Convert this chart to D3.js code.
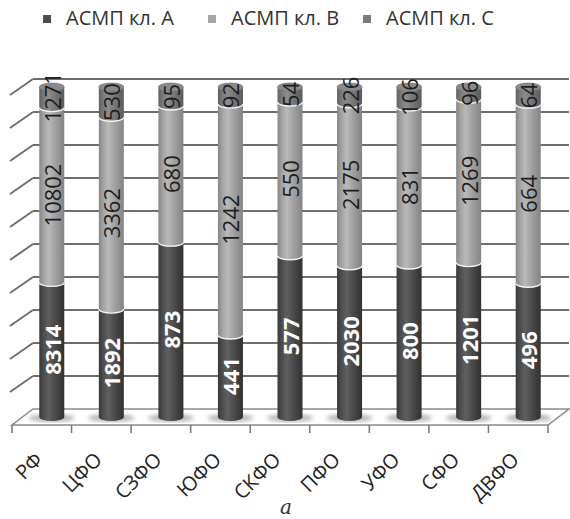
<!DOCTYPE html>
<html>
<head>
<meta charset="utf-8">
<script src="https://cdn.jsdelivr.net/npm/d3@7"></script>
<style>
  body { margin: 0; background: #fff; }
  svg { display: block; font-family: 'Open Sans', sans-serif; }
</style>
</head>
<body>
<div id="chart"></div>
<script>
// Data
const categories = ['РФ', 'ЦФО', 'СЗФО', 'ЮФО', 'СКФО', 'ПФО', 'УФО', 'СФО', 'ДВФО'];
const seriesNames = ['АСМП кл. А', 'АСМП кл. В', 'АСМП кл. С'];
const classA = [8314, 1892, 873, 441, 577, 2030, 800, 1201, 496];
const classB = [10802, 3362, 680, 1242, 550, 2175, 831, 1269, 664];
const classC = [1271, 530, 95, 92, 54, 226, 106, 96, 64];
const gridTicks = [0, 0.1, 0.2, 0.3, 0.4, 0.5, 0.6, 0.7, 0.8, 0.9, 1];

const width = 570, height = 519;
// 3D depth of the floor / back wall, and the plane where the cylinders stand
const depth = {dx: 21, dy: -16};
const mid = {dx: 10, dy: -8};
const rx = 12.5, ry = 4;

const svg = d3.select('#chart').append('svg')
    .attr('width', width)
    .attr('height', height);

const defs = svg.append('defs');

// Cylinder shading per series
const palette = [
  ['#383838', '#4e4e4e', '#5f5f5f', '#4a4a4a', '#313131'],
  ['#868686', '#a4a4a4', '#b9b9b9', '#a0a0a0', '#848484'],
  ['#606060', '#7b7b7b', '#8d8d8d', '#767676', '#5b5b5b']
];
const legendColors = ['#4d4d4d', '#a6a6a6', '#7b7b7b'];
const capColors = ['#5a5a5a', '#b4b4b4', '#8a8a8a'];

palette.forEach((stops, i) => {
  const g = defs.append('linearGradient')
      .attr('id', 'cyl' + i)
      .attr('x1', 0).attr('x2', 1).attr('y1', 0).attr('y2', 0);
  [0, 0.18, 0.38, 0.65, 1].forEach((o, j) => {
    g.append('stop').attr('offset', o).attr('stop-color', stops[j]);
  });
});
defs.append('filter').attr('id', 'blur')
  .append('feGaussianBlur').attr('stdDeviation', 2);

// Scales
const x = d3.scaleBand()
    .domain(categories)
    .range([12, 548]);
const y = d3.scaleLinear()
    .domain([0, 1])
    .range([425, 95]);

// Stack as shares of total (100% stacked)
const rows = categories.map((c, i) => ({cat: c, a: classA[i], b: classB[i], c: classC[i]}));
const stacked = d3.stack()
    .keys(['a', 'b', 'c'])
    .offset(d3.stackOffsetExpand)(rows);

// Floor
const x0 = x.range()[0], x1 = x.range()[1];
svg.append('polygon')
    .attr('points', [
      [x0, y(0)], [x1, y(0)],
      [x1 + depth.dx, y(0) + depth.dy], [x0 + depth.dx, y(0) + depth.dy]
    ].map(p => p.join(',')).join(' '))
    .attr('fill', '#fff')
    .attr('stroke', '#8a8a8a')
    .attr('stroke-width', 1.5);

// Ticks under the floor front edge
svg.append('g')
  .selectAll('line')
  .data(categories.map(c => x(c)).concat([x1]))
  .join('line')
    .attr('x1', d => d).attr('x2', d => d)
    .attr('y1', y(0)).attr('y2', y(0) + 8)
    .attr('stroke', '#777')
    .attr('stroke-width', 1.5);

// Back wall and side wall gridlines
const grid = svg.append('g')
    .attr('stroke', '#6e6e6e')
    .attr('stroke-width', 2);
grid.selectAll('.back')
  .data(gridTicks.filter(t => t > 0))
  .join('line')
    .attr('class', 'back')
    .attr('x1', x0 + depth.dx).attr('x2', x1 + depth.dx)
    .attr('y1', d => y(d) + depth.dy).attr('y2', d => y(d) + depth.dy);
grid.selectAll('.side')
  .data(gridTicks.filter(t => t > 0))
  .join('line')
    .attr('class', 'side')
    .attr('x1', x0 - 2).attr('x2', x0 + depth.dx)
    .attr('y1', d => y(d)).attr('y2', d => y(d) + depth.dy);

// Soft shadows on the floor
const cx = d => x(d) + x.bandwidth() / 2 + mid.dx;
svg.append('g')
  .selectAll('ellipse')
  .data(categories)
  .join('ellipse')
    .attr('cx', d => cx(d))
    .attr('cy', y(0) + mid.dy + 1)
    .attr('rx', 23)
    .attr('ry', 4)
    .attr('fill', '#b5b5b5')
    .attr('filter', 'url(#blur)');

// Cylinder segment between two heights
const segPath = (c, yb, yt) =>
  `M${c - rx},${yt} A${rx},${ry} 0 0 0 ${c + rx},${yt} ` +
  `L${c + rx},${yb} A${rx},${ry} 0 0 1 ${c - rx},${yb} Z`;

const bars = svg.append('g');
stacked.forEach((layer, i) => {
  const g = bars.append('g');
  g.selectAll('path.seg')
    .data(layer)
    .join('path')
      .attr('class', 'seg')
      .attr('d', d => segPath(cx(d.data.cat), y(d[0]) + mid.dy, y(d[1]) + mid.dy))
      .attr('fill', `url(#cyl${i})`);
  if (i > 0) {
    // white seam between segments
    g.selectAll('path.seam')
      .data(layer)
      .join('path')
        .attr('class', 'seam')
        .attr('d', d => {
          const c = cx(d.data.cat), yy = y(d[0]) + mid.dy;
          return `M${c - rx},${yy} A${rx},${ry} 0 0 0 ${c + rx},${yy}`;
        })
        .attr('fill', 'none')
        .attr('stroke', '#f4f4f4')
        .attr('stroke-width', 1.3);
  }
  if (i === stacked.length - 1) {
    g.selectAll('ellipse')
      .data(layer)
      .join('ellipse')
        .attr('cx', d => cx(d.data.cat))
        .attr('cy', d => y(d[1]) + mid.dy)
        .attr('rx', rx)
        .attr('ry', ry)
        .attr('fill', capColors[i])
        .attr('stroke', '#6a6a6a')
        .attr('stroke-width', 0.6);
  }
});

// Value labels, rotated along the cylinders
const labelStyle = [
  {fill: '#fff', weight: 700, size: 22},
  {fill: '#1e1e1e', weight: 400, size: 22},
  {fill: '#1e1e1e', weight: 400, size: 22}
];
stacked.forEach((layer, i) => {
  svg.append('g')
    .selectAll('text')
    .data(layer)
    .join('text')
      .attr('transform', d => `translate(${cx(d.data.cat)}, ${y((d[0] + d[1]) / 2) + mid.dy}) rotate(-90)`)
      .attr('text-anchor', 'middle')
      .attr('dominant-baseline', 'central')
      .attr('fill', labelStyle[i].fill)
      .attr('font-weight', labelStyle[i].weight)
      .attr('font-size', labelStyle[i].size)
      .text(d => d.data[layer.key]);
});

// Category labels
svg.append('g')
  .selectAll('text')
  .data(categories)
  .join('text')
    .attr('transform', d => `translate(${x(d) + x.bandwidth() / 2 + 2}, 461) rotate(-45)`)
    .attr('text-anchor', 'end')
    .attr('font-size', 20)
    .attr('fill', '#222')
    .text(d => d);

// Legend
const legendX = [43, 208, 363];
const legend = svg.append('g')
  .selectAll('g')
  .data(seriesNames)
  .join('g')
    .attr('transform', (d, i) => `translate(${legendX[i]}, 15)`);
legend.append('rect')
    .attr('width', 8).attr('height', 8)
    .attr('fill', (d, i) => legendColors[i]);
legend.append('text')
    .attr('x', 23)
    .attr('y', 10)
    .attr('font-size', 20)
    .attr('fill', '#333')
    .text(d => d);

// Panel letter
svg.append('text')
    .attr('x', 286)
    .attr('y', 514)
    .attr('text-anchor', 'middle')
    .attr('font-family', 'DejaVu Serif, serif')
    .attr('font-style', 'italic')
    .attr('font-size', 20)
    .attr('fill', '#333')
    .text('а');
</script>
</body>
</html>
